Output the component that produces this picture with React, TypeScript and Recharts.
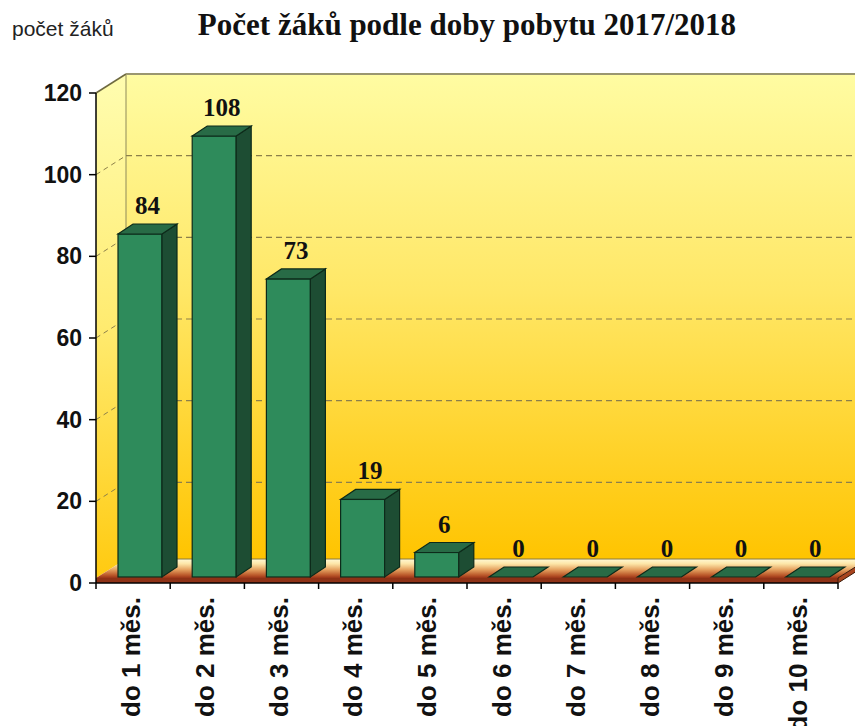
import React from 'react';
import { BarChart, Bar, XAxis, YAxis, CartesianGrid, LabelList } from 'recharts';

const CATEGORIES = [
  'do 1 měs.', 'do 2 měs.', 'do 3 měs.', 'do 4 měs.', 'do 5 měs.',
  'do 6 měs.', 'do 7 měs.', 'do 8 měs.', 'do 9 měs.', 'do 10 měs.',
];
const STUDENTS = [84, 108, 73, 19, 6, 0, 0, 0, 0, 0];
const Y_TICKS = [0, 20, 40, 60, 80, 100, 120];
const TITLE = 'Počet žáků podle doby pobytu 2017/2018';
const Y_LABEL = 'počet žáků';

const data = CATEGORIES.map((cat, i) => ({ cat, value: STUDENTS[i] }));

// frame geometry
const W = 855;
const H = 726;
const MARGIN = { top: 93, right: 17, left: 0, bottom: 0 };
const Y_AXIS_W = 96;
const X_AXIS_H = 143;
const PL = MARGIN.left + Y_AXIS_W;
const PR = W - MARGIN.right;
const PT = MARGIN.top;
const PB = H - X_AXIS_H;
const BAND = (PR - PL) / CATEGORIES.length;
const DX = 30; // wall depth
const DY = -19;
const FLOOR_T = 5;
// bar placement inside the floor and bar depth
const SX = 7;
const SY = -6;
const BDX = 15;
const BDY = -10;

const GRID = '#8c7f4a';

const Bar3D = (props: any) => {
  const { x, y, width, height } = props;
  const fx = x + SX;
  const fy = y + SY;
  const h = Math.max(0, height || 0);
  const stroke = '#0d2a1a';
  const top = `${fx},${fy} ${fx + BDX},${fy + BDY} ${fx + width + BDX},${fy + BDY} ${fx + width},${fy}`;
  const side = `${fx + width},${fy} ${fx + width + BDX},${fy + BDY} ${fx + width + BDX},${fy + h + BDY} ${fx + width},${fy + h}`;
  return (
    <g>
      {h > 0 && <rect x={fx} y={fy} width={width} height={h} fill="#2e8b5b" stroke={stroke} strokeWidth={1.2} />}
      {h > 0 && <polygon points={side} fill="#1d4d33" stroke={stroke} strokeWidth={1.2} />}
      <polygon points={top} fill="#286b46" stroke={stroke} strokeWidth={1.2} />
    </g>
  );
};

const ValueLabel = (props: any) => {
  const { x, y, width, value } = props;
  return (
    <text
      x={Number(x) + SX + Number(width) / 2 + BDX / 2}
      y={Number(y) + SY + BDY - 10}
      textAnchor="middle"
      fontFamily="'Liberation Serif', serif"
      fontWeight="bold"
      fontSize={25}
      fill="#111"
    >
      {value}
    </text>
  );
};

const CatTick = (props: any) => {
  const { x, y, payload } = props;
  const index = props.index ?? payload.index;
  const last = index === CATEGORIES.length - 1;
  return (
    <g>
      <line x1={x - BAND / 2} y1={y} x2={x - BAND / 2} y2={y + 6} stroke="#000" strokeWidth={1.5} />
      {last && <line x1={x + BAND / 2} y1={y} x2={x + BAND / 2} y2={y + 6} stroke="#000" strokeWidth={1.5} />}
      <text
        transform={`translate(${x},${y + 14}) rotate(-90)`}
        textAnchor="end"
        dy="0.25em"
        fontFamily="'Liberation Sans', Arial, sans-serif"
        fontWeight="bold"
        fontSize={26}
        fill="#111"
      >
        {payload.value}
      </text>
    </g>
  );
};

const gridLine = (p: any) => {
  const { x1, y1, index } = p;
  const key = `h-${index}-${y1}`;
  if (Math.abs(y1 - PB) < 1) return <g key={key} />;
  if (Math.abs(y1 - PT) < 1) {
    return (
      <g key={key}>
        <line x1={x1} y1={y1} x2={x1 + DX} y2={y1 + DY} stroke="#6f6a40" strokeWidth={1.5} />
        <line x1={x1 + DX} y1={y1 + DY} x2={W} y2={y1 + DY} stroke="#9a9670" strokeWidth={2} />
      </g>
    );
  }
  return (
    <g key={key}>
      <line x1={x1} y1={y1} x2={x1 + DX} y2={y1 + DY} stroke={GRID} strokeDasharray="5 4" strokeWidth={1} />
      <line x1={x1 + DX} y1={y1 + DY} x2={W} y2={y1 + DY} stroke={GRID} strokeDasharray="6 4" strokeWidth={1.2} />
    </g>
  );
};

const Walls = () => {
  const bx = PL + DX;
  const fyTop = PB - FLOOR_T;
  return (
    <svg width={W} height={H} style={{ position: 'absolute', left: 0, top: 0 }}>
      <defs>
        <linearGradient id="wall" x1="0" y1="0" x2="0" y2="1">
          <stop offset="0%" stopColor="#fffca2" />
          <stop offset="45%" stopColor="#ffe766" />
          <stop offset="100%" stopColor="#ffc400" />
        </linearGradient>
        <linearGradient id="side" x1="0" y1="0" x2="0" y2="1">
          <stop offset="0%" stopColor="#fffdb0" />
          <stop offset="50%" stopColor="#ffeb70" />
          <stop offset="100%" stopColor="#ffca10" />
        </linearGradient>
        <linearGradient id="floor" x1="0" y1="0" x2="0" y2="1">
          <stop offset="0%" stopColor="#fff9d4" />
          <stop offset="25%" stopColor="#fde6a8" />
          <stop offset="55%" stopColor="#e6a462" />
          <stop offset="85%" stopColor="#bb582a" />
          <stop offset="100%" stopColor="#9a3418" />
        </linearGradient>
      </defs>
      <rect x={bx} y={PT + DY} width={W - bx} height={PB - PT - FLOOR_T} fill="url(#wall)" />
      <polygon
        points={`${PL},${PT} ${bx},${PT + DY} ${bx},${fyTop + DY} ${PL},${fyTop}`}
        fill="url(#side)"
      />
      <line x1={bx} y1={PT + DY} x2={bx} y2={fyTop + DY} stroke="#8f8a5a" strokeWidth={1} />
      <polygon
        points={`${PL},${fyTop} ${bx},${fyTop + DY} ${PR + DX},${fyTop + DY} ${PR},${fyTop}`}
        fill="url(#floor)"
      />
      <line x1={bx} y1={fyTop + DY} x2={W} y2={fyTop + DY} stroke="#8a7a40" strokeWidth={1} />
      <rect x={PL} y={fyTop} width={PR - PL} height={FLOOR_T} fill="#8e3216" />
      <polygon
        points={`${PR},${fyTop} ${PR + DX},${fyTop + DY} ${PR + DX},${PB + DY} ${PR},${PB}`}
        fill="#a8441e"
        stroke="#3a1a08"
        strokeWidth={1}
      />
      <text x={12} y={36} fontFamily="'Liberation Sans', Arial, sans-serif" fontSize={21} fill="#222">
        {Y_LABEL}
      </text>
      <text
        x={467}
        y={35}
        textAnchor="middle"
        fontFamily="'Liberation Serif', 'Times New Roman', serif"
        fontWeight="bold"
        fontSize={31}
        fill="#111"
      >
        {TITLE}
      </text>
    </svg>
  );
};

export default function App() {
  return (
    <div style={{ position: 'absolute', left: 0, top: 0, width: W, height: H, background: '#fff', overflow: 'hidden' }}>
      <Walls />
      <div style={{ position: 'absolute', left: 0, top: 0 }}>
        <BarChart width={W} height={H} data={data} margin={MARGIN} barSize={44}>
          <CartesianGrid horizontal={gridLine} vertical={false} />
          <XAxis
            dataKey="cat"
            height={X_AXIS_H}
            interval={0}
            tickLine={false}
            tickSize={0}
            tickMargin={0}
            axisLine={{ stroke: '#000', strokeWidth: 1.5 }}
            tick={CatTick}
          />
          <YAxis
            width={Y_AXIS_W}
            domain={[0, 120]}
            ticks={Y_TICKS}
            interval={0}
            tickSize={7}
            tickMargin={7}
            axisLine={{ stroke: '#000', strokeWidth: 1.5 }}
            tickLine={{ stroke: '#000', strokeWidth: 1.5 }}
            tick={{ fontFamily: "'Liberation Sans', Arial, sans-serif", fontWeight: 'bold', fontSize: 23, fill: '#111' }}
          />
          <Bar dataKey="value" shape={Bar3D} isAnimationActive={false}>
            <LabelList dataKey="value" content={ValueLabel} />
          </Bar>
        </BarChart>
      </div>
    </div>
  );
}
